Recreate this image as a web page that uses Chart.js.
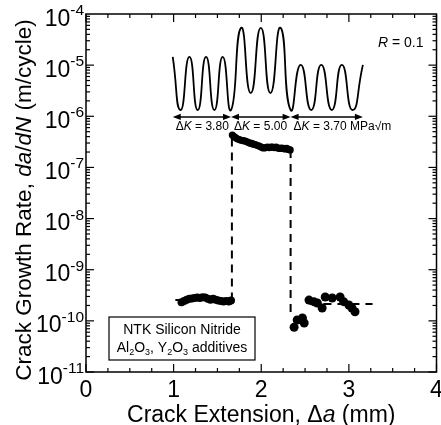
<!DOCTYPE html>
<html>
<head>
<meta charset="utf-8">
<script src="https://cdn.jsdelivr.net/npm/chart.js@4.4.0/dist/chart.umd.min.js"></script>
<style>
  html, body { margin: 0; padding: 0; background: #fff; }
  canvas { display: block; }
</style>
</head>
<body>
<canvas id="fatigueChart" width="441" height="425"></canvas>
<script>
// stage 1, dK = 3.80
const stage1X = [1.09, 1.12, 1.15, 1.18, 1.21, 1.24, 1.27, 1.30, 1.33, 1.36, 1.39, 1.42, 1.45, 1.48, 1.51, 1.54, 1.57, 1.60, 1.63, 1.655];
const stage1Y = [2.3e-10, 2.45e-10, 2.6e-10, 2.7e-10, 2.75e-10, 2.8e-10, 2.85e-10, 2.8e-10, 2.9e-10, 2.85e-10,
                 2.7e-10, 2.6e-10, 2.7e-10, 2.6e-10, 2.5e-10, 2.45e-10, 2.4e-10, 2.45e-10, 2.4e-10, 2.5e-10];

// stage 2, dK = 5.00
const stage2X = [1.67, 1.69, 1.71, 1.73, 1.75, 1.77, 1.79, 1.81, 1.83, 1.85, 1.87, 1.89, 1.91, 1.93, 1.95, 1.97, 1.99,
                 2.01, 2.03, 2.05, 2.07, 2.09, 2.11, 2.13, 2.15, 2.17, 2.19, 2.21, 2.23, 2.25, 2.27, 2.29, 2.31, 2.33];
const stage2Y = [4.3e-7, 4.0e-7, 3.8e-7, 3.6e-7, 3.5e-7, 3.4e-7, 3.35e-7, 3.3e-7, 3.2e-7, 3.1e-7, 3.0e-7, 2.95e-7,
                 2.85e-7, 2.8e-7, 2.7e-7, 2.65e-7, 2.55e-7, 2.45e-7, 2.4e-7, 2.45e-7, 2.5e-7, 2.45e-7, 2.5e-7, 2.5e-7,
                 2.45e-7, 2.5e-7, 2.4e-7, 2.35e-7, 2.4e-7, 2.35e-7, 2.3e-7, 2.35e-7, 2.25e-7, 2.2e-7];

// stage 3, dK = 3.70
const stage3X = [2.375, 2.41, 2.47, 2.49, 2.545, 2.60, 2.64, 2.695, 2.73, 2.81, 2.90, 2.94, 3.00, 3.035, 3.07];
const stage3Y = [7.5e-11, 1.04e-10, 1.14e-10, 9.1e-11, 2.55e-10, 2.37e-10, 2.23e-10, 1.78e-10, 2.92e-10, 2.8e-10,
                 2.92e-10, 2.37e-10, 2.04e-10, 1.78e-10, 1.51e-10];

// dashed guide lines
const guide1 = [[1.02, 2.55e-10], [1.665, 2.55e-10], [1.665, 4.3e-7]];
const guide2 = [[2.335, 2.2e-7], [2.335, 1.2e-10]];
const guide3 = [[2.55, 2.13e-10], [3.27, 2.13e-10]];

// loading schematic (peaks and valleys of the cyclic load)
const waveX = [0.99, 1.08, 1.18, 1.275, 1.37, 1.465, 1.56, 1.655, 1.77, 1.88, 1.995, 2.105, 2.22, 2.335,
               2.45, 2.57, 2.685, 2.805, 2.92, 3.04, 3.16];
const waveLevel = [1, 0, 1, 0, 1, 0, 1, 0, 1.55, 0.32, 1.55, 0.32, 1.55, 0, 0.85, 0, 0.85, 0, 0.85, 0, 0.85];
const blockEdges = [0.99, 1.655, 2.335, 3.16];
const deltaK = ['3.80', '5.00', '3.70 MPa\u221Am'];

const yExponents = [-11, -10, -9, -8, -7, -6, -5, -4];
const xTickLabels = [0, 1, 2, 3, 4];

const FONT = '"Liberation Sans", Arial, Helvetica, sans-serif';

function pts(xs, ys) { return xs.map((x, i) => ({ x: x, y: ys[i] })); }
function pairs(arr) { return arr.map(p => ({ x: p[0], y: p[1] })); }

// draws a run of text pieces: [text, size, italic, dy]
function drawParts(ctx, parts, x, y, align) {
  let total = 0;
  parts.forEach(p => {
    ctx.font = (p[2] ? 'italic ' : '') + p[1] + 'px ' + FONT;
    p.w = ctx.measureText(p[0]).width;
    total += p.w;
  });
  let cx = align === 'center' ? x - total / 2 : (align === 'right' ? x - total : x);
  parts.forEach(p => {
    ctx.font = (p[2] ? 'italic ' : '') + p[1] + 'px ' + FONT;
    ctx.fillText(p[0], cx, y + (p[3] || 0));
    cx += p.w;
  });
  return total;
}

function line(ctx, x1, y1, x2, y2) {
  ctx.beginPath(); ctx.moveTo(x1, y1); ctx.lineTo(x2, y2); ctx.stroke();
}

function arrowHead(ctx, x, y, dir) {
  ctx.beginPath();
  ctx.moveTo(x, y);
  ctx.lineTo(x - dir * 8, y - 3.2);
  ctx.lineTo(x - dir * 8, y + 3.2);
  ctx.closePath();
  ctx.fill();
}

const decorations = {
  id: 'decorations',
  afterDraw(chart) {
    const ctx = chart.ctx;
    const xs = chart.scales.x, ys = chart.scales.y, yw = chart.scales.yw;
    const { left, right, top, bottom } = chart.chartArea;
    ctx.save();
    ctx.fillStyle = '#000';
    ctx.strokeStyle = '#000';
    ctx.textBaseline = 'alphabetic';
    ctx.textAlign = 'left';

    // frame
    ctx.lineWidth = 1.5;
    ctx.strokeRect(left, top, right - left, bottom - top);

    // ticks, inside, mirrored
    ctx.lineWidth = 1.2;
    for (let i = 0; i <= 16; i++) {
      const px = xs.getPixelForValue(i * 0.25);
      const len = i % 4 === 0 ? 8 : 4;
      line(ctx, px, bottom, px, bottom - len);
      line(ctx, px, top, px, top + len);
    }
    for (let e = -11; e < -4; e++) {
      for (let m = 1; m <= 9; m++) {
        const py = ys.getPixelForValue(m * Math.pow(10, e));
        const len = m === 1 ? 8 : 4;
        line(ctx, left, py, left + len, py);
        line(ctx, right, py, right - len, py);
      }
    }

    // y tick labels 10^n
    yExponents.forEach(e => {
      const py = ys.getPixelForValue(Math.pow(10, e));
      ctx.font = '15.5px ' + FONT;
      const ew = ctx.measureText(String(e)).width;
      ctx.fillText(String(e), 84 - ew, py + 1);
      ctx.font = '23px ' + FONT;
      const bw = ctx.measureText('10').width;
      ctx.fillText('10', 84 - ew - bw, py + 11.5);
    });

    // x tick labels
    ctx.font = '23px ' + FONT;
    xTickLabels.forEach(v => {
      const t = String(v);
      const w = ctx.measureText(t).width;
      ctx.fillText(t, xs.getPixelForValue(v) - w / 2, 397);
    });

    // axis titles
    drawParts(ctx, [['Crack Extension, \u0394', 23], ['a', 23, true], [' (mm)', 23]],
      (left + right) / 2, 422, 'center');
    ctx.save();
    ctx.translate(31, 200);
    ctx.rotate(-Math.PI / 2);
    drawParts(ctx, [['Crack Growth Rate, ', 22.5], ['da', 22.5, true], ['/', 22.5], ['dN', 22.5, true], [' (m/cycle)', 22.5]],
      0, 0, 'center');
    ctx.restore();

    // block arrows and dK labels
    const ay = yw.getPixelForValue(-0.13);
    ctx.lineWidth = 1.5;
    for (let i = 0; i < blockEdges.length - 1; i++) {
      const x1 = xs.getPixelForValue(blockEdges[i]);
      const x2 = xs.getPixelForValue(blockEdges[i + 1]);
      line(ctx, x1 + 3, ay, x2 - 3, ay);
      arrowHead(ctx, x1, ay, -1);
      arrowHead(ctx, x2, ay, 1);
      drawParts(ctx, [['\u0394', 12], ['K', 12, true], [' = ' + deltaK[i], 12]], x1 + 3, ay + 13.5, 'left');
    }

    // R ratio
    drawParts(ctx, [['R', 14, true], [' = 0.1', 14]], 378, 47, 'left');

    // material box
    ctx.lineWidth = 1.2;
    ctx.fillStyle = '#fff';
    ctx.fillRect(109, 317, 146, 43);
    ctx.strokeRect(109, 317, 146, 43);
    ctx.fillStyle = '#000';
    drawParts(ctx, [['NTK Silicon Nitride', 14]], 182, 334, 'center');
    drawParts(ctx, [['Al', 14], ['2', 9, false, 3], ['O', 14], ['3', 9, false, 3], [', Y', 14], ['2', 9, false, 3],
      ['O', 14], ['3', 9, false, 3], [' additives', 14]], 182, 352, 'center');

    ctx.restore();
  }
};

const dotStyle = { showLine: false, pointStyle: 'circle', backgroundColor: '#000', borderColor: '#000', borderWidth: 0 };
const dashStyle = { showLine: true, pointRadius: 0, borderColor: '#000', borderWidth: 2, borderDash: [8, 6] };

new Chart(document.getElementById('fatigueChart'), {
  type: 'scatter',
  data: {
    datasets: [
      Object.assign({ label: 'dK 3.80', data: pts(stage1X, stage1Y), pointRadius: 4 }, dotStyle),
      Object.assign({ label: 'dK 5.00', data: pts(stage2X, stage2Y), pointRadius: 3.6 }, dotStyle),
      Object.assign({ label: 'dK 3.70', data: pts(stage3X, stage3Y), pointRadius: 4.5 }, dotStyle),
      Object.assign({ label: 'guide 1', data: pairs(guide1) }, dashStyle),
      Object.assign({ label: 'guide 2', data: pairs(guide2) }, dashStyle),
      Object.assign({ label: 'guide 3', data: pairs(guide3) }, dashStyle),
      {
        label: 'load',
        data: pts(waveX, waveLevel),
        yAxisID: 'yw',
        showLine: true,
        pointRadius: 0,
        borderColor: '#000',
        borderWidth: 1.8,
        tension: 0.6,
        capBezierPoints: false
      }
    ]
  },
  options: {
    responsive: false,
    animation: false,
    devicePixelRatio: 1,
    layout: { padding: { top: 14, right: 1, left: 0, bottom: 0 } },
    plugins: { legend: { display: false }, tooltip: { enabled: false } },
    scales: {
      x: {
        type: 'linear', min: 0, max: 4,
        ticks: { display: false }, grid: { display: false }, border: { display: false },
        afterFit: s => { s.height = 53; }
      },
      y: {
        type: 'logarithmic', min: 1e-11, max: 1e-4,
        ticks: { display: false }, grid: { display: false }, border: { display: false },
        afterFit: s => { s.width = 86; }
      },
      yw: { type: 'linear', display: false, min: -4.94, max: 1.81 }
    }
  },
  plugins: [decorations]
});
</script>
</body>
</html>
